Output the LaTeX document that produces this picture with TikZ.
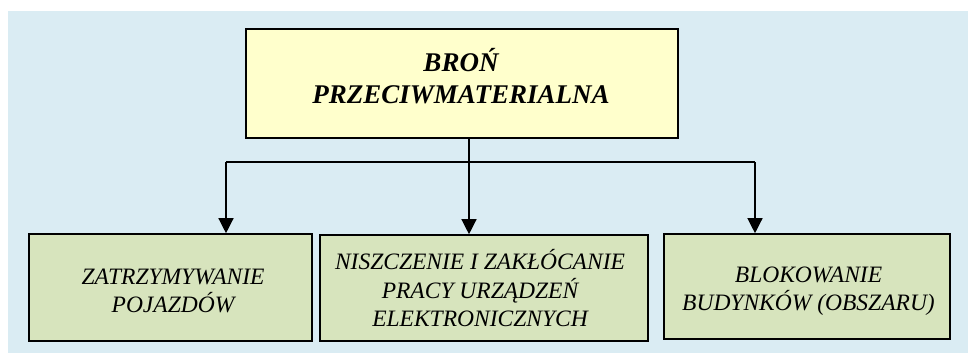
\documentclass[tikz,border=0pt]{standalone}
\usepackage{fontspec}
\setmainfont{Liberation Serif}
\usetikzlibrary{arrows.meta}
\definecolor{panelblue}{HTML}{DAECF3}
\definecolor{headyellow}{HTML}{FFFFCC}
\definecolor{leafgreen}{HTML}{D7E4BD}
\begin{document}
\begin{tikzpicture}[x=1pt,y=-1pt,
  box/.style={draw=black,line width=1.6pt,inner sep=0pt},
  headbox/.style={box,fill=headyellow},
  leafbox/.style={box,fill=leafgreen},
  headtext/.style={align=center,inner sep=0pt,font=\fontsize{27}{32}\selectfont\bfseries\itshape},
  leaftext/.style={align=center,inner sep=0pt,font=\fontsize{23.5}{28.5}\selectfont\itshape},
  link/.style={line width=1.3pt,draw=black},
  arrow/.style={link,-{Triangle[width=15pt,length=15pt]}}]
\useasboundingbox (0,0) rectangle (968,353);
\fill[panelblue] (8,11) rectangle (968,353);
% boxes
\node[headbox,minimum width=432pt,minimum height=109pt] (head) at (462,83.5) {};
\node[leafbox,minimum width=283pt,minimum height=107pt] (l1) at (170.5,287.5) {};
\node[leafbox,minimum width=328pt,minimum height=106pt] (l2) at (484,288) {};
\node[leafbox,minimum width=286pt,minimum height=105pt] (l3) at (807,286.5) {};
% texts
\node[headtext] (headt) at (461,76) {BROŃ\\PRZECIWMATERIALNA};
\node[leaftext] (l1t) at (173,291) {ZATRZYMYWANIE\\POJAZDÓW};
\node[leaftext] (l2t) at (480,288.5) {NISZCZENIE I ZAKŁÓCANIE\\PRACY URZĄDZEŃ\\ELEKTRONICZNYCH};
\node[leaftext] (l3t) at (808.5,291) {BLOKOWANIE\\BUDYNKÓW (OBSZARU)};
% connectors
\coordinate (bus) at (469,162);
\coordinate (busl) at (226,162);
\coordinate (busr) at (755,162);
\draw[link] (head.south -| bus) -- (bus);
\draw[link] (busl) -- (busr);
\draw[arrow] (busl) -- (busl |- l1.north);
\draw[arrow] (bus) -- (bus |- l2.north);
\draw[arrow] (busr) -- (busr |- l3.north);
\end{tikzpicture}
\end{document}
